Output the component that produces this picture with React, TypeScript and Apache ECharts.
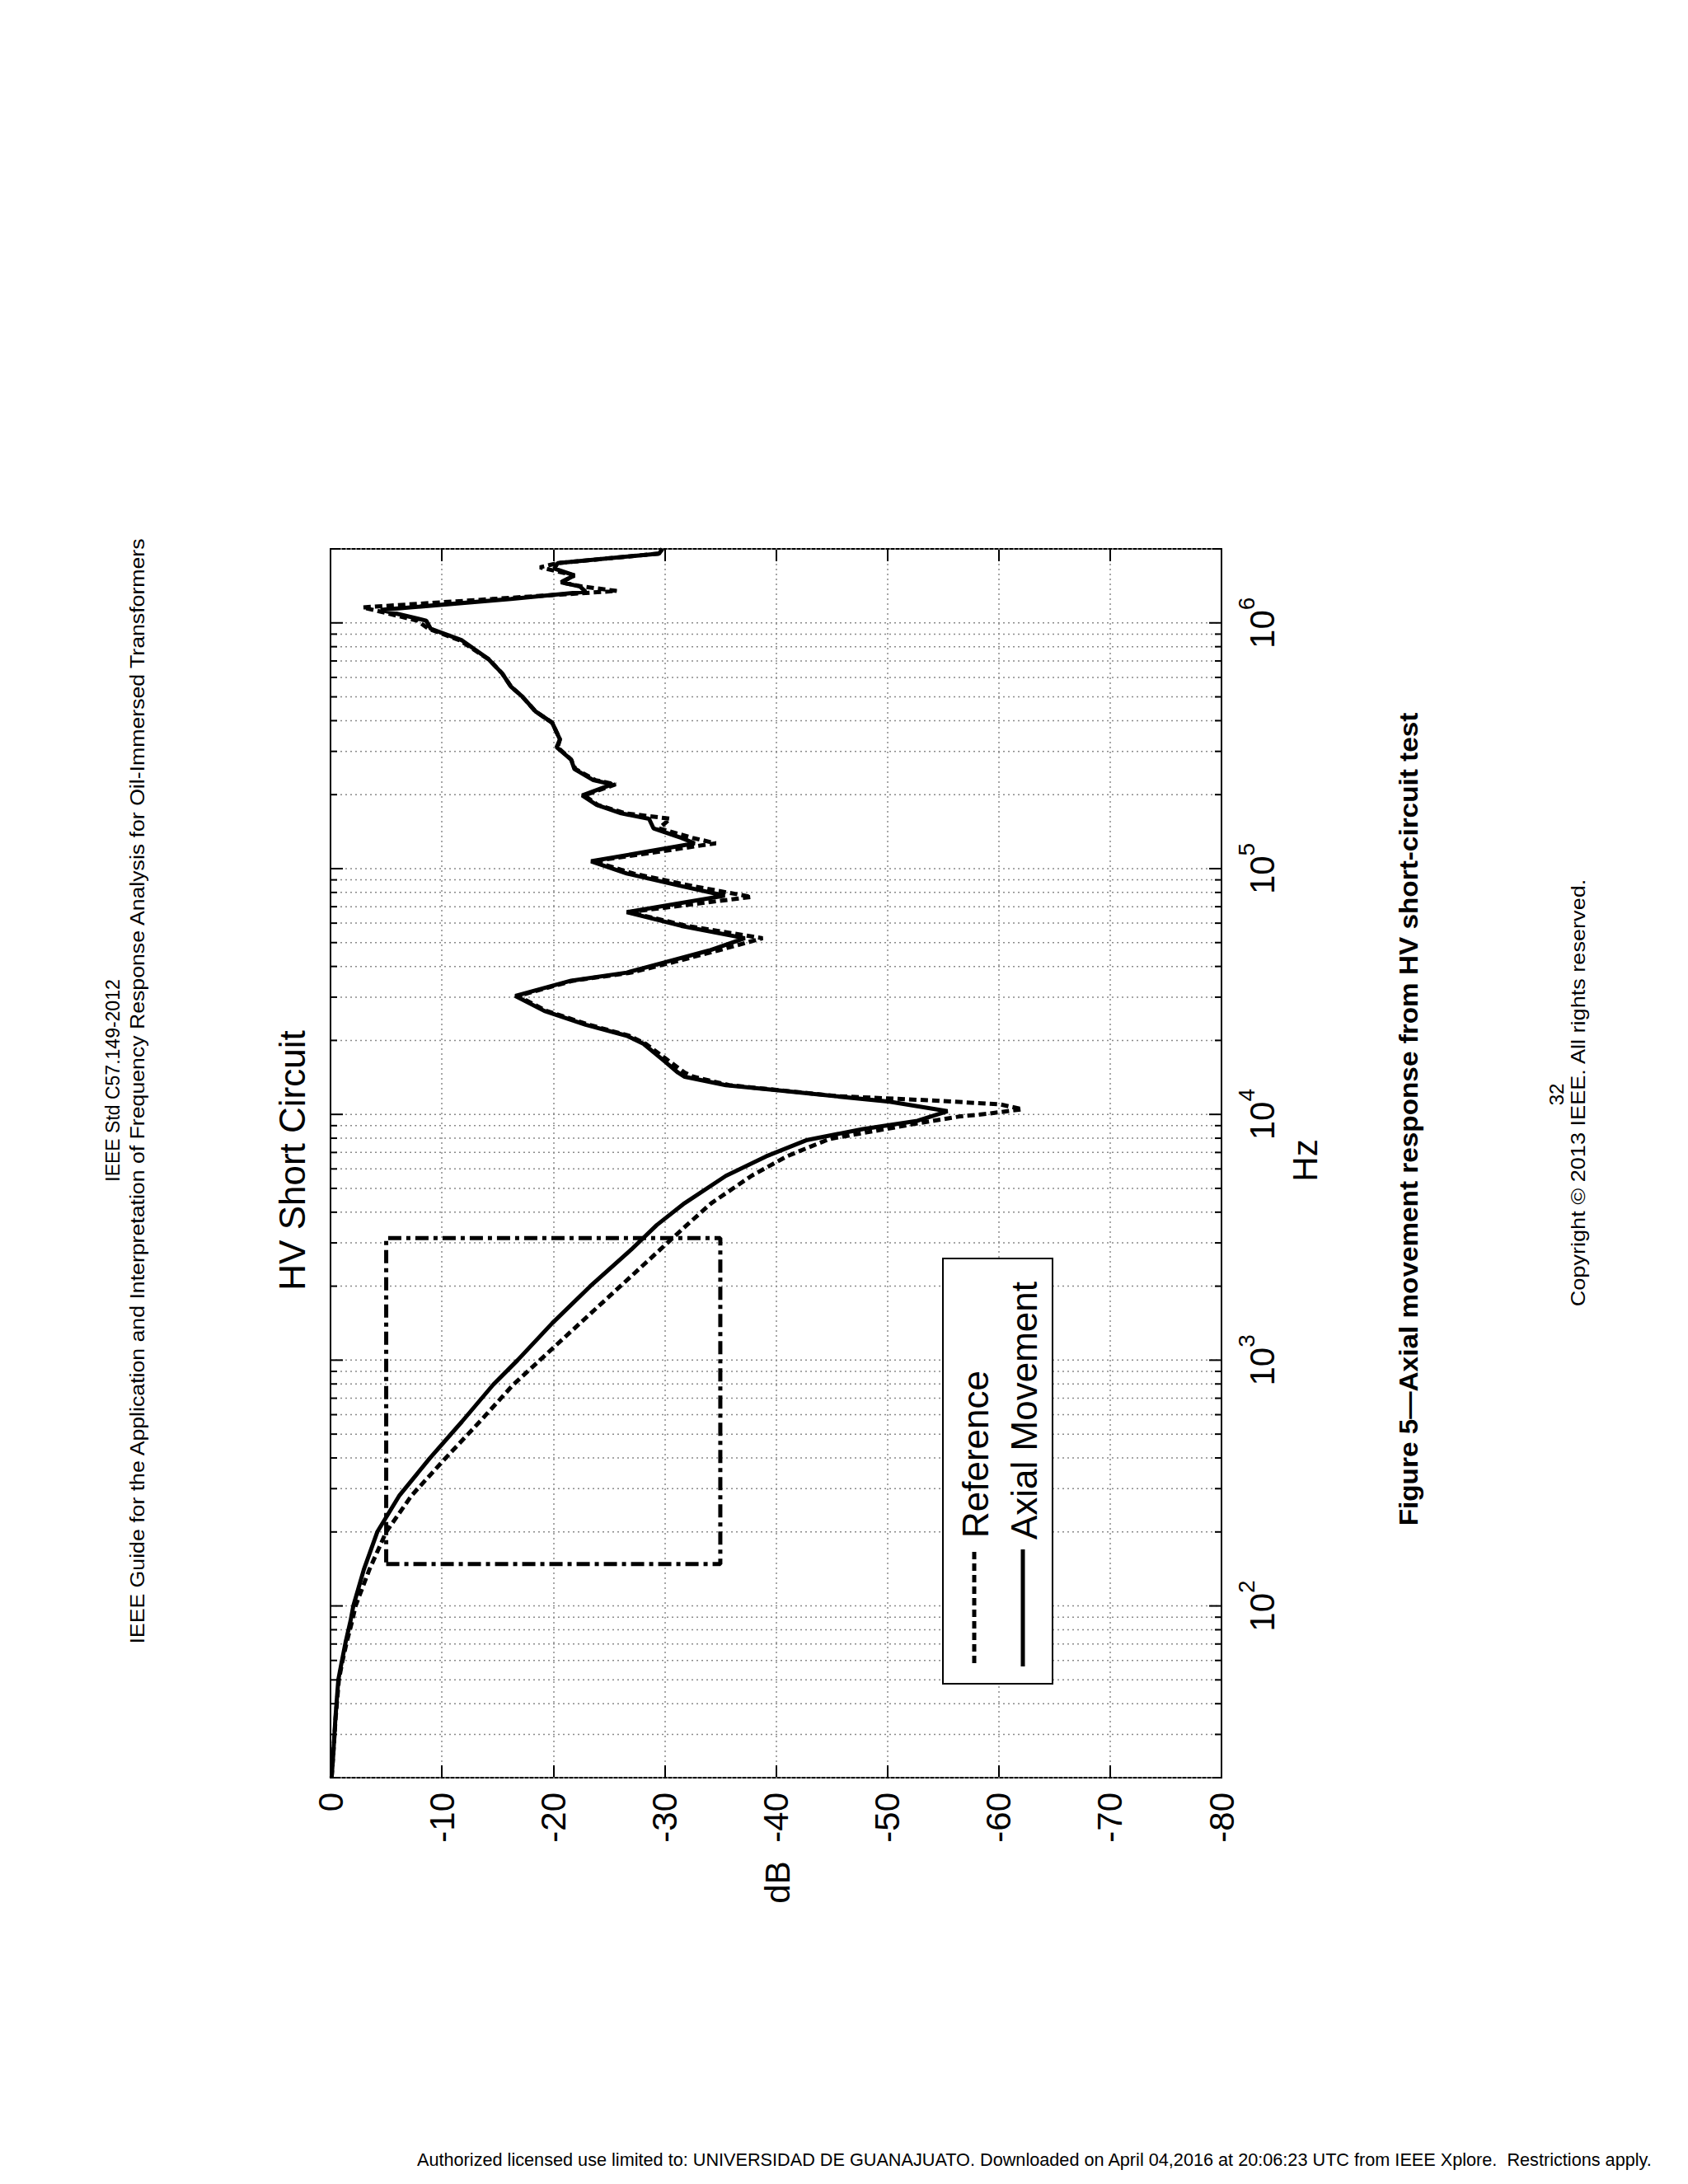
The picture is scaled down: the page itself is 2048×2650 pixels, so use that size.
import React, { useEffect, useRef } from 'react';
import * as echarts from 'echarts';

// ---- data ----
const axialFreq = [20, 25, 35, 50, 59, 71, 87, 100, 141, 200, 282, 398, 562, 794, 1000, 1413, 1995, 2818, 3548, 4355, 5623, 6745, 7870, 8710, 9419, 10304, 11272, 11858, 12503, 13152, 14223, 14791, 16596, 19364, 20893, 23174, 26363, 30339, 34995, 37757, 41879, 46452, 52119, 58479, 66527, 77625, 84918, 95499, 107152, 126765, 133352, 145881, 159588, 167880, 181551, 198609, 220291, 229087, 254097, 277971, 311889, 335738, 392645, 436516, 502343, 550808, 623735, 711214, 849180, 946237, 1020939, 1129795, 1250259, 1339677, 1406048, 1462177, 1559553, 1663413, 1749847, 1914256, 2000000];
const axialDb = [-0.1, -0.25, -0.44, -0.7, -1.0, -1.35, -1.8, -2.05, -3.0, -4.2, -6.2, -8.9, -11.8, -14.6, -16.8, -19.9, -23.3, -27.0, -29.3, -31.8, -35.5, -39.1, -42.8, -47.8, -52.7, -55.4, -50.2, -45.3, -40.4, -35.5, -31.8, -31.2, -29.9, -28.1, -26.6, -22.9, -19.2, -16.6, -21.6, -26.6, -30.3, -34.0, -37.2, -31.5, -26.6, -35.4, -31.5, -26.6, -23.4, -32.7, -31.5, -29.0, -28.6, -26.1, -23.9, -22.6, -25.3, -23.6, -21.9, -21.6, -20.3, -20.6, -19.9, -18.4, -17.2, -16.2, -15.4, -14.2, -11.8, -9.0, -8.6, -4.5, -16.2, -22.9, -22.4, -20.7, -21.9, -20.1, -20.4, -29.5, -29.8];

const refFreq = [20, 25, 35, 50, 59, 71, 87, 100, 141, 200, 282, 398, 562, 794, 1000, 1413, 1995, 2818, 3548, 4355, 5623, 6761, 7943, 9226, 9795, 10046, 10495, 10990, 11402, 11858, 12503, 13152, 14223, 14791, 16596, 19364, 20893, 23174, 26363, 30339, 34995, 37757, 41879, 46452, 52119, 58479, 66527, 76736, 84918, 95499, 107152, 126765, 133352, 145881, 159588, 167880, 181551, 198609, 220291, 229087, 254097, 277971, 311889, 335738, 392645, 436516, 502343, 550808, 623735, 711214, 849180, 946237, 1020939, 1156112, 1250259, 1348963, 1406048, 1462177, 1559553, 1682674, 1749847, 1914256, 2000000];
const refDb = [-0.1, -0.25, -0.46, -0.75, -1.05, -1.45, -1.95, -2.25, -3.5, -5.0, -7.3, -10.3, -13.4, -16.4, -18.8, -22.4, -26.0, -29.6, -32.0, -34.2, -37.8, -41.0, -44.8, -52.9, -56.4, -58.9, -62.1, -60.1, -53.9, -45.6, -40.6, -35.8, -32.6, -31.8, -30.3, -28.3, -26.8, -23.2, -19.4, -16.8, -21.8, -27.0, -31.0, -34.8, -38.8, -32.0, -26.8, -37.8, -32.5, -27.2, -23.6, -34.6, -32.5, -29.5, -30.5, -26.5, -24.0, -22.8, -25.6, -23.8, -22.0, -21.6, -20.4, -20.6, -19.9, -18.4, -17.2, -16.2, -15.4, -14.2, -11.6, -8.8, -7.8, -2.9, -14.5, -25.7, -22.6, -20.7, -21.9, -18.8, -20.4, -29.5, -29.8];

const zoomBoxFreq = [148, 3140];
const zoomBoxDb = [-5, -35];

const dbRange = [-80, 0];
const freqRange = [20, 2000000];
const decades = [100, 1000, 10000, 100000, 1000000];
const minorMultipliers = [2, 3, 4, 5, 6, 7, 8, 9];

const seriesNames = ['Reference', 'Axial Movement'];
const chartTitle = 'HV Short Circuit';
const xName = 'dB';
const yName = 'Hz';
const headerLine1 = 'IEEE Std C57.149-2012';
const headerLine2 = 'IEEE Guide for the Application and Interpretation of Frequency Response Analysis for Oil-Immersed Transformers';
const captionText = 'Figure 5\u2014Axial movement response from HV short-circuit test';
const pageNumber = '32';
const copyrightText = 'Copyright \u00A9 2013 IEEE. All rights reserved.';
const footerText = 'Authorized licensed use limited to: UNIVERSIDAD DE GUANAJUATO. Downloaded on April 04,2016 at 20:06:23 UTC from IEEE Xplore.  Restrictions apply.';

const FONT = '"Liberation Sans", Arial, Helvetica, sans-serif';
const UP = Math.PI / 2;

function buildGridFreqs() {
  const out: [number, number][] = [];
  const start = [10, ...decades];
  start.forEach((d) => {
    [1, ...minorMultipliers].forEach((m) => {
      const f = d * m;
      if (f >= freqRange[0] && f <= freqRange[1]) out.push([f, m === 1 ? 1 : 0]);
    });
  });
  return out;
}

export default function App() {
  const ref = useRef<HTMLDivElement>(null);
  useEffect(() => {
    if (!ref.current) return;
    const chart = echarts.init(ref.current, null, { renderer: 'svg' });
    const gridFreqs = buildGridFreqs();
    const axisLine = { show: true, onZero: false, lineStyle: { color: '#000', width: 2 } };
    const tick = { show: true, inside: true, length: 15, lineStyle: { color: '#000', width: 2 } };
    const boxData = [
      [zoomBoxDb[0], zoomBoxFreq[0]],
      [zoomBoxDb[1], zoomBoxFreq[0]],
      [zoomBoxDb[1], zoomBoxFreq[1]],
      [zoomBoxDb[0], zoomBoxFreq[1]],
      [zoomBoxDb[0], zoomBoxFreq[0]],
    ];
    const vText = (text: string, x: number, y: number, font: string, stretch = 1, align = 'center') => ({
      type: 'text', x, y, rotation: UP, scaleX: stretch, z: 50,
      style: { text, font, fill: '#000', textAlign: align, textVerticalAlign: 'middle' },
    });
    const option: any = {
      animation: false,
      backgroundColor: '#ffffff',
      grid: { left: 401, top: 666, width: 1081, height: 1491, show: false },
      xAxis: [
        {
          type: 'value', min: dbRange[0], max: dbRange[1], interval: 10, inverse: true, position: 'bottom',
          axisLine, axisTick: tick,
          axisLabel: { show: true, rotate: 90, margin: 18, fontSize: 42, fontFamily: FONT, color: '#000' },
          splitLine: { show: true, lineStyle: { color: '#8a8a8a', width: 1.5, type: [2, 4] } },
        },
        {
          type: 'value', min: dbRange[0], max: dbRange[1], interval: 10, inverse: true, position: 'top',
          axisLine, axisTick: tick, axisLabel: { show: false }, splitLine: { show: false },
        },
      ],
      yAxis: [
        {
          type: 'log', logBase: 10, min: freqRange[0], max: freqRange[1], position: 'right',
          axisLine, axisTick: { show: false }, splitLine: { show: false }, minorTick: { show: false },
          axisLabel: {
            show: true, rotate: 90, margin: 16, showMinLabel: false, showMaxLabel: false,
            formatter: (v: number) => {
              const e = Math.round(Math.log10(v));
              if (Math.abs(v - Math.pow(10, e)) / v < 1e-6 && decades.indexOf(Math.pow(10, e)) >= 0) {
                return '{b|10}{s|' + e + '}';
              }
              return '';
            },
            rich: {
              b: { fontSize: 42, fontFamily: FONT, color: '#000', verticalAlign: 'bottom', lineHeight: 54 },
              s: { fontSize: 28, fontFamily: FONT, color: '#000', verticalAlign: 'top', lineHeight: 30 },
            },
          },
        },
        {
          type: 'log', logBase: 10, min: freqRange[0], max: freqRange[1], position: 'left',
          axisLine, axisTick: { show: false }, splitLine: { show: false }, axisLabel: { show: false },
        },
      ],
      series: [
        {
          type: 'custom', name: 'freqGrid', silent: true, z: 1,
          data: gridFreqs.map(([f, major]) => [-40, f, major]),
          encode: { x: 0, y: 1 },
          renderItem: (params: any, api: any) => {
            const f = api.value(1);
            const major = api.value(2) === 1;
            const pL = api.coord([dbRange[1], f]);
            const pR = api.coord([dbRange[0], f]);
            const len = major ? 15 : 8;
            return {
              type: 'group',
              children: [
                { type: 'line', shape: { x1: pL[0], y1: pL[1], x2: pR[0], y2: pR[1] }, style: { stroke: '#8a8a8a', lineWidth: 1.5, lineDash: [2, 4] } },
                { type: 'line', shape: { x1: pL[0], y1: pL[1], x2: pL[0] + len, y2: pL[1] }, style: { stroke: '#000', lineWidth: 2 } },
                { type: 'line', shape: { x1: pR[0] - len, y1: pR[1], x2: pR[0], y2: pR[1] }, style: { stroke: '#000', lineWidth: 2 } },
              ],
            };
          },
        },
        {
          type: 'line', name: 'zoomBox', data: boxData, symbol: 'none', silent: true, z: 3,
          lineStyle: { color: '#000', width: 5, type: [16, 6, 5, 6] },
        },
        {
          type: 'line', name: seriesNames[0], data: refFreq.map((f, i) => [refDb[i], f]), symbol: 'none', z: 4,
          lineStyle: { color: '#000', width: 5, type: [9, 5] },
        },
        {
          type: 'line', name: seriesNames[1], data: axialFreq.map((f, i) => [axialDb[i], f]), symbol: 'none', z: 5,
          lineStyle: { color: '#000', width: 5, type: 'solid' },
        },
      ],
      graphic: [
        // chart title and axis names
        vText(chartTitle, 354, 1408, '44px ' + FONT),
        vText(yName, 1583, 1408, '42px ' + FONT),
        vText(xName, 943, 2284, '42px ' + FONT),
        // legend
        { type: 'rect', z: 60, shape: { x: 1144, y: 1527, width: 133, height: 516 }, style: { fill: '#fff', stroke: '#000', lineWidth: 2 } },
        { type: 'line', z: 61, shape: { x1: 1182, y1: 2018, x2: 1182, y2: 1880 }, style: { stroke: '#000', lineWidth: 5, lineDash: [9, 5] } },
        { type: 'line', z: 61, shape: { x1: 1241, y1: 2022, x2: 1241, y2: 1880 }, style: { stroke: '#000', lineWidth: 5 } },
        { type: 'text', x: 1183, y: 1866, rotation: UP, z: 62, style: { text: seriesNames[0], font: '44px ' + FONT, fill: '#000', textAlign: 'left', textVerticalAlign: 'middle' } },
        { type: 'text', x: 1242, y: 1868, rotation: UP, z: 62, style: { text: seriesNames[1], font: '44px ' + FONT, fill: '#000', textAlign: 'left', textVerticalAlign: 'middle' } },
        // page texts
        vText(headerLine1, 137, 1311, '23px ' + FONT),
        vText(headerLine2, 167, 1324, '23px ' + FONT, 1.16),
        vText(captionText, 1709, 1358, 'bold 31px ' + FONT, 1.075),
        vText(pageNumber, 1888, 1328, '24px ' + FONT),
        vText(copyrightText, 1915, 1326, '24px ' + FONT, 1.13),
        { type: 'text', x: 506, y: 2620, scaleX: 0.985, z: 50, style: { text: footerText, font: '22px ' + FONT, fill: '#000', textAlign: 'left', textVerticalAlign: 'middle' } },
      ],
    };
    chart.setOption(option);
    return () => chart.dispose();
  }, []);
  return <div ref={ref} style={{ position: 'absolute', left: 0, top: 0, width: 2048, height: 2650, background: '#fff' }} />;
}
